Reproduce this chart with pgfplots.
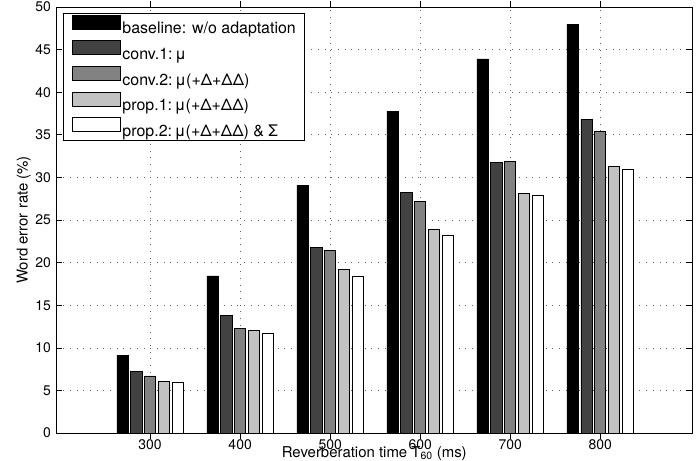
\documentclass[border=0pt]{standalone}
\usepackage{fontspec}
\setmainfont{TeX Gyre Heros}
\usepackage{pgfplots}
\usepackage{pgfplotstable}
\pgfplotsset{compat=1.18}
\definecolor{cA}{gray}{0}
\definecolor{cB}{gray}{0.26}
\definecolor{cC}{gray}{0.51}
\definecolor{cD}{gray}{0.76}
\definecolor{cE}{gray}{1}

\pgfplotstableread{
x    b      c1     c2     p1     p2
300  9.15   7.20   6.70   6.05   6.00
400  18.45  13.80  12.30  12.05  11.70
500  29.10  21.80  21.45  19.20  18.45
600  37.75  28.20  27.20  23.85  23.20
700  43.90  31.75  31.90  28.10  27.85
800  48.00  36.80  35.40  31.30  30.90
}\datatable

\begin{document}
\begin{tikzpicture}
\begin{axis}[
  at={(0,0)}, anchor=south west,
  scale only axis, width=635.5bp, height=426bp,
  xmin=196, xmax=902, ymin=0, ymax=50,
  xtick={300,400,500,600,700,800},
  ytick={0,5,...,50},
  tick align=inside, major tick length=6bp,
  grid=major,
  major grid style={black!60, line width=0.6bp, dash pattern=on 1bp off 5.7bp},
  axis line style={line width=0.8bp},
  every tick/.style={black, line width=0.6bp},
  ticklabel style={font=\fontsize{14}{16}\selectfont},
  xticklabel style={yshift=3bp},
  yticklabel style={xshift=-2bp},
  /pgf/number format/assume math mode=true,
  /pgf/number format/1000 sep={},
  xlabel={Reverberation time T\textsubscript{60} (ms)},
  ylabel={Word error rate (\%)},
  label style={font=\fontsize{15}{18}\selectfont},
  xlabel style={at={(axis description cs:0.5,0)}, anchor=north, inner sep=0pt, yshift=-13bp},
  ylabel style={at={(axis description cs:-0.0401,0.5)}, rotate=0, anchor=south, inner sep=0pt},
  ybar, bar width=12.3,
  legend cell align=left,
  legend image code/.code={\draw[#1, line width=0.6bp] (0bp,-1.5bp) rectangle (48.5bp,12.5bp);},
  legend style={at={(axis description cs:0,1)}, anchor=north west, xshift=7bp, yshift=-6bp,
    draw=black, line width=0.8bp, fill=white,
    font=\fontsize{16}{19}\selectfont,
    row sep=3.5bp,
    nodes={text height=15bp, text depth=2.5bp, inner ysep=0.5bp, inner xsep=0.5bp},
    inner xsep=8bp, inner ysep=1.5bp,
    /tikz/every odd column/.append style={column sep=1bp}},
]
\addplot[fill=cA, draw=black, line width=0.6bp, bar shift=-30.77] table[x=x, y=b] {\datatable};
\addplot[fill=cB, draw=black, line width=0.6bp, bar shift=-15.38] table[x=x, y=c1] {\datatable};
\addplot[fill=cC, draw=black, line width=0.6bp, bar shift=0] table[x=x, y=c2] {\datatable};
\addplot[fill=cD, draw=black, line width=0.6bp, bar shift=15.38] table[x=x, y=p1] {\datatable};
\addplot[fill=cE, draw=black, line width=0.6bp, bar shift=30.77] table[x=x, y=p2] {\datatable};
\legend{baseline: w/o adaptation, conv.1:\,μ, conv.2:\,μ(+Δ+ΔΔ), prop.1:\,μ(+Δ+ΔΔ), prop.2:\,μ(+Δ+ΔΔ) \& Σ}
\end{axis}
\pgfresetboundingbox
\path (-56.5bp,-28bp) rectangle (642.5bp,433bp);
\end{tikzpicture}
\end{document}
